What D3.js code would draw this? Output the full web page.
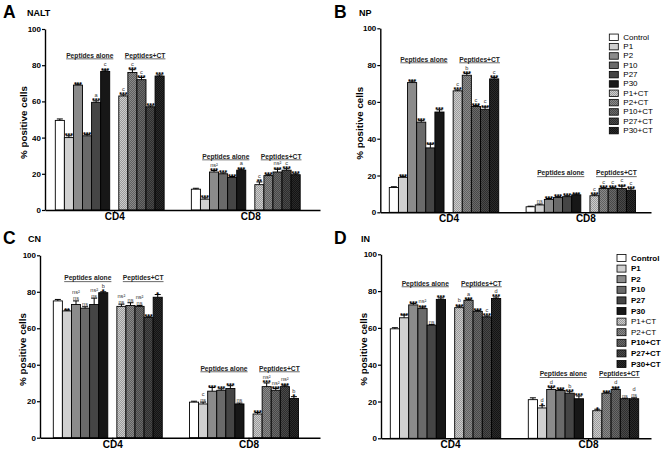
<!DOCTYPE html>
<html><head><meta charset="utf-8">
<script src="https://cdn.jsdelivr.net/npm/d3@7"></script>
<style>body{margin:0;background:#fff}svg{display:block;font-family:Arial,"Liberation Sans",sans-serif}svg text{opacity:0.995}</style>
</head><body><svg id="chart" width="662" height="452"></svg>
<script>
// ---------- DATA ----------
const series = ["Control","P1","P2","P10","P27","P30","P1+CT","P2+CT","P10+CT","P27+CT","P30+CT"];
const cellTypes = ["CD4","CD8"];
const yTicks = [0,20,40,60,80,100];
const panelLetters = ["A","B","C","D"];
const tissues = ["NALT","NP","CN","IN"];
const groupLabels = ["Peptides alone","Peptides+CT"];

const naltCD4 = [49.5,40,69,41,59.5,76.5, 63,76,72,57,74];
const naltCD8 = [11.5,6,21,20,18,22, 14,19,21,22,19.5];
const npCD4   = [13.5,19,70.5,49,35,54.5, 66,74.5,57.5,56,72.5];
const npCD8   = [3,4,7,8,8.5,9.5, 9,13,13,13,12];
const cnCD4   = [75,69.5,73,71,73,79.5, 72,72.5,72,66,77];
const cnCD8   = [19.5,18.5,25.5,26,27,18.5, 13,28,26,28,21.5];
const inCD4   = [59.5,65.5,72.5,70.5,61.5,75.5, 71,75,69,66,76];
const inCD8   = [21,16.5,26.5,26,24.5,21.5, 15,24.5,26.5,21.5,21.5];

const naltCD4Err = [0.8,1,0.5,0.8,0.8,0.8, 0.6,1.5,1.2,0.5,0.6];
const naltCD8Err = [0.5,0.7,0.8,0.5,0.5,0.5, 1.5,0.5,1.5,0.8,0.5];
const npCD4Err   = [0.4,0.5,0.8,0.8,2,1.2, 0.5,1,0.5,1.2,0.8];
const npCD8Err   = [0.3,0.5,0.5,0.5,0.5,0.4, 0.5,0.4,0.4,1.2,0.8];
const cnCD4Err   = [0.8,0.5,2,0.8,3.5,0.5, 1.2,1.5,0.5,0.3,1.5];
const cnCD8Err   = [0.5,1,2,0.8,1.5,0.5, 0.8,2,1,0.8,1];
const inCD4Err   = [0.6,1.5,0.8,0.8,0.3,0.8, 0.8,0.5,0.5,0.5,0.8];
const inCD8Err   = [1,1.2,1,0.5,0.8,1.5, 0.8,0.5,0.8,0.3,0.5];

const naltCD4Sig = ["","***","***","***","a\n***","c\n***","c\n***","c\n***","c\n***","***","***"];
const naltCD8Sig = ["","***","ns²\n***","***","***","a\n***","c\n**","***","ns²\n***","c\n***","***"];
const npCD4Sig   = ["","***","***","***","***","***","c\n***","b\n***","c\n***","c\n***","c\n***"];
const npCD8Sig   = ["","ns","***","***","***","***","c\n***","c\n***","c\n***","c\n***","c\n***"];
const cnCD4Sig   = ["","**","ns²\nns","ns","ns²\nns","b\n*","ns²\nns","ns","ns²\nns","***","*"];
const cnCD8Sig   = ["","c\nns","***","***","***","ns","***","ns²\n***","ns²\n***","ns²\n***","b\n*"];
const inCD4Sig   = ["","***","***","ns²\n***","ns","***","b\n***","a\n***","***","c\n***","d\n***"];
const inCD8Sig   = ["","d\n*","d\n***","***","b\n***","***","*","***","d\n***","ns","d\nns"];

const panelData = [
  {vals:[naltCD4,naltCD8], errs:[naltCD4Err,naltCD8Err], sigs:[naltCD4Sig,naltCD8Sig]},
  {vals:[npCD4,npCD8],     errs:[npCD4Err,npCD8Err],     sigs:[npCD4Sig,npCD8Sig]},
  {vals:[cnCD4,cnCD8],     errs:[cnCD4Err,cnCD8Err],     sigs:[cnCD4Sig,cnCD8Sig]},
  {vals:[inCD4,inCD8],     errs:[inCD4Err,inCD8Err],     sigs:[inCD4Sig,inCD8Sig]}
];
// y position (data units) of the "Peptides alone / +CT" headers per cell type
const headerY = [[85.6,29.8],[83.3,21.4],[87.6,38.2],[84.4,35.2]];

// ---------- LAYOUT / STYLE ----------
const layout = [
  {ox:0,   oy:0,   axisX:45,   axisEnd:320, yBase:210,   yTop:29,   first:55.3, slot:9.07, ylabX:23, letterX:3, nameX:27, legend:null},
  {ox:331, oy:0,   axisX:49.3, axisEnd:320, yBase:212.3, yTop:28.3, first:58.3, slot:9.12, ylabX:28, letterX:3, nameX:28, legend:{x:278.3,y:37.3,dy:9.33,h:6.5}},
  {ox:0,   oy:226, axisX:40,   axisEnd:320, yBase:211.7, yTop:29.3, first:53.3, slot:9.08, ylabX:22, letterX:3, nameX:28, legend:null},
  {ox:331, oy:226, axisX:50,   axisEnd:320, yBase:212.3, yTop:28.3, first:59.3, slot:9.2,  ylabX:32, letterX:3, nameX:30, legend:{x:286,y:32,dy:10.6,h:7,bold:[true,true,true,true,true,true,false,false,true,true,true]}}
];
const solidFill = {"Control":"#ffffff","P1":"#d0d0d0","P2":"#8b8b8b","P10":"#6a6a6a","P27":"#454545","P30":"#171717"};
const patFill = {"P1+CT":["#9a9a9a","#cdcdcd"],"P2+CT":["#606060","#8a8a8a"],"P10+CT":["#484848","#6a6a6a"],"P27+CT":["#2e2e2e","#4a4a4a"],"P30+CT":["#141414","#2a2a2a"]};

const svg = d3.select("#chart");
const defs = svg.append("defs");
series.forEach((s,i)=>{
  if(!patFill[s]) return;
  const p = defs.append("pattern").attr("id","pat"+i).attr("patternUnits","userSpaceOnUse")
    .attr("width",2).attr("height",2);
  p.append("rect").attr("width",2).attr("height",2).attr("fill",patFill[s][0]);
  p.append("rect").attr("width",1).attr("height",1).attr("fill",patFill[s][1]);
  p.append("rect").attr("x",1).attr("y",1).attr("width",1).attr("height",1).attr("fill",patFill[s][1]);
});
const fillOf = (s,i)=> solidFill[s] || `url(#pat${i})`;
const slotOf = (c,i)=> c*15 + (i<6 ? i : i+1);

panelData.forEach((pd,pi)=>{
  const L = layout[pi];
  const g = svg.append("g").attr("transform",`translate(${L.ox},${L.oy})`);
  const y = d3.scaleLinear().domain([0,100]).range([L.yBase,L.yTop]);
  const x = d3.scaleLinear()
    .domain([(L.axisX-L.first)/L.slot,(L.axisEnd-L.first)/L.slot])
    .range([L.axisX,L.axisEnd]);

  g.append("text").attr("x",L.letterX).attr("y",17.5).attr("font-size",17.5).attr("font-weight","bold").text(panelLetters[pi]);
  g.append("text").attr("x",L.nameX).attr("y",16.3).attr("font-size",9).attr("font-weight","bold").text(tissues[pi]);

  const ya = g.append("g").attr("transform",`translate(${L.axisX},0)`)
    .call(d3.axisLeft(y).tickValues(yTicks).tickSize(3).tickSizeOuter(0).tickPadding(1));
  ya.select(".domain").attr("stroke-width",1.4);
  ya.selectAll(".tick line").attr("stroke-width",1.2);
  ya.selectAll("text").attr("font-size",8).attr("font-weight","bold").attr("font-family",null);
  g.append("text")
    .attr("transform",`translate(${L.ylabX},${(L.yBase+L.yTop)/2+3}) rotate(-90)`)
    .attr("text-anchor","middle").attr("dominant-baseline","central")
    .attr("font-size",9.8).attr("font-weight","bold").text("% positive cells");

  cellTypes.forEach((ct,c)=>{
    const vals = pd.vals[c], errs = pd.errs[c], sigs = pd.sigs[c];
    const bg = g.append("g");
    series.forEach((s,i)=>{
      const x0 = x(slotOf(c,i)), w = x(slotOf(c,i)+1)-x0, cx = x0+w/2;
      bg.append("rect").attr("x",x0).attr("y",y(vals[i])).attr("width",w)
        .attr("height",y(0)-y(vals[i])).attr("fill",fillOf(s,i))
        .attr("stroke","#000").attr("stroke-width",0.9);
      const top = y(vals[i]+errs[i]);
      bg.append("line").attr("x1",cx).attr("x2",cx).attr("y1",y(vals[i])).attr("y2",top).attr("stroke","#000").attr("stroke-width",1);
      bg.append("line").attr("x1",cx-3).attr("x2",cx+3).attr("y1",top).attr("y2",top).attr("stroke","#000").attr("stroke-width",1);
      if(sigs[i]){
        const lines = sigs[i].split("\n").reverse();
        const t = bg.append("text").attr("text-anchor","middle");
        let bottom = top-0.6, prevText = false;
        lines.forEach(line=>{
          const stars = /^\*+$/.test(line);
          let base, tp;
          if(stars){ base = bottom+3.1; tp = bottom-2.2; }
          else {
            base = prevText ? bottom - 1.6 : bottom;
            tp = base - 3.4;
          }
          t.append("tspan").attr("x",cx).attr("y",base)
            .attr("font-size",stars?7:5.6).attr("font-weight",stars?"bold":"normal")
            .attr("fill",stars?"#000":"#333").text(line);
          bottom = tp-1.0;
          prevText = !stars;
        });
      }
    });
    const hx1 = (x(slotOf(c,0))+x(slotOf(c,5)+1))/2 + 0.8*L.slot;
    const hx2 = (x(slotOf(c,6))+x(slotOf(c,10)+1))/2 + 0.4*L.slot;
    [hx1,hx2].forEach((hx,k)=>{
      g.append("text").attr("x",hx).attr("y",y(headerY[pi][c])).attr("text-anchor","middle")
        .attr("dominant-baseline","central").attr("font-size",6.7).attr("font-weight","bold")
        .attr("fill","#222").attr("text-decoration","underline").text(groupLabels[k]);
    });
  });

  const xa = g.append("g").attr("transform",`translate(0,${L.yBase})`)
    .call(d3.axisBottom(x).tickValues([6.5,21.5]).tickSize(3).tickSizeOuter(0).tickFormat((d,k)=>cellTypes[k]));
  xa.select(".domain").attr("stroke-width",1.4);
  xa.selectAll("text").attr("y",10).attr("dy","0").attr("font-size",10).attr("font-weight","bold").attr("font-family",null);

  if(L.legend){
    const lg = g.append("g");
    series.forEach((s,i)=>{
      const cy = L.legend.y + i*L.legend.dy;
      lg.append("rect").attr("x",L.legend.x).attr("y",cy-L.legend.h/2).attr("width",9).attr("height",L.legend.h)
        .attr("fill",fillOf(s,i)).attr("stroke","#000").attr("stroke-width",0.8);
      lg.append("text").attr("x",L.legend.x+14).attr("y",cy).attr("dominant-baseline","central")
        .attr("font-size",8).attr("font-weight",L.legend.bold && L.legend.bold[i] ? "bold":"normal").text(s);
    });
  }
});
</script></body></html>
